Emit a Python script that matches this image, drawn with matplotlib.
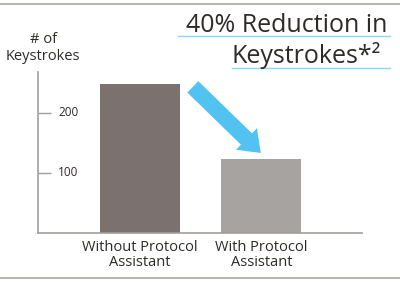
import matplotlib
matplotlib.use("Agg")
import matplotlib.pyplot as plt
from matplotlib.lines import Line2D

categories = ["Without Protocol\nAssistant", "With Protocol\nAssistant"]
keystrokes = [247, 123]
bar_colors = ["#7b7270", "#a6a3a0"]
y_ticks = [100, 200]

plt.rcParams["font.family"] = ["Open Sans", "DejaVu Sans"]
text_color = "#2e2a28"
axis_color = "#a29e9b"

fig = plt.figure(figsize=(4.0, 2.84), dpi=100)
ax = fig.add_axes([0.095, 0.18, 0.81, 0.567])

x = range(len(categories))
ax.bar(x, keystrokes, width=0.66, color=bar_colors)
ax.set_xlim(-0.84, 1.83)
ax.set_ylim(0, 268)

for s in ["top", "right"]:
    ax.spines[s].set_visible(False)
for s in ["left", "bottom"]:
    ax.spines[s].set_color(axis_color)
    ax.spines[s].set_linewidth(1.2)

ax.set_xticks([])
ax.set_yticks(y_ticks)
ax.tick_params(axis="y", direction="in", length=9.5, width=1.0,
               color=axis_color, labelleft=False)
for v in y_ticks:
    ax.text(0.062, v, str(v), transform=ax.get_yaxis_transform(),
            ha="left", va="center", fontsize=8.5, color=text_color)

for i, lab in enumerate(categories):
    ax.text(i, -12, lab, ha="center", va="top", fontsize=10.5,
            color=text_color, linespacing=1.0)

# y axis title
fig.text(0.108, 1 - 64 / 284, "# of\nKeystrokes", ha="center", va="bottom",
         fontsize=10.5, color=text_color, linespacing=1.15)

# arrow from first bar to second
ax.annotate("", xy=(0.996, keystrokes[1] + 10), xytext=(0.436, keystrokes[0] - 4),
            arrowprops=dict(arrowstyle="simple,head_width=1.8,head_length=1.2,tail_width=0.95",
                            mutation_scale=12, color="#52c3f1", lw=0,
                            shrinkA=0, shrinkB=0))

# headline with underlines
fig.text(0.968, 1 - 32 / 284, "40% Reduction in", ha="right", va="baseline",
         fontsize=18, color=text_color)
fig.text(0.952, 1 - 63 / 284, "Keystrokes*\u00b2", ha="right", va="baseline",
         fontsize=18, color=text_color)
fig.add_artist(Line2D([178 / 400, 390 / 400], [1 - 36 / 284] * 2,
                      color="#8ad6f4", lw=1.0))
fig.add_artist(Line2D([232 / 400, 390 / 400], [1 - 68 / 284] * 2,
                      color="#8ad6f4", lw=1.0))

# frame lines top and bottom
fig.add_artist(Line2D([0, 1], [1 - 4 / 284] * 2, color="#b8b4b0", lw=1.5))
fig.add_artist(Line2D([0, 1], [1 - 278 / 284] * 2, color="#aaa7a4", lw=1.2))

fig.savefig("out.png", dpi=100)
